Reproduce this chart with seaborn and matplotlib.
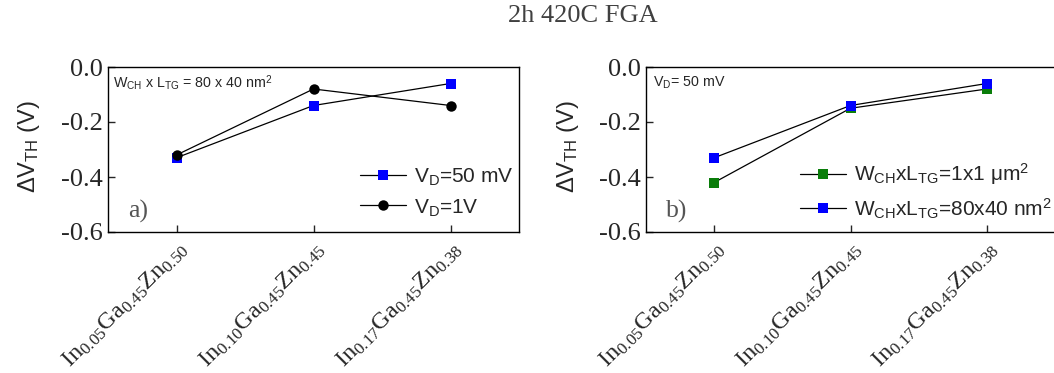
import numpy as np
import pandas as pd
import matplotlib
matplotlib.use("Agg")
import matplotlib.pyplot as plt
import seaborn as sns
from matplotlib.transforms import ScaledTranslation

# ---- data ----
categories = [r"$\mathrm{In}_{0.05}\mathrm{Ga}_{0.45}\mathrm{Zn}_{0.50}$",
              r"$\mathrm{In}_{0.10}\mathrm{Ga}_{0.45}\mathrm{Zn}_{0.45}$",
              r"$\mathrm{In}_{0.17}\mathrm{Ga}_{0.45}\mathrm{Zn}_{0.38}$"]
vd_50mV = [-0.33, -0.14, -0.06]
vd_1V = [-0.32, -0.08, -0.14]
size_1x1 = [-0.42, -0.15, -0.08]
size_80x40 = [-0.33, -0.14, -0.06]
yticks = [-0.6, -0.4, -0.2, 0.0]
ytick_labels = ["-0.6", "-0.4", "-0.2", "0.0"]

sns.set_style("ticks")
plt.rcParams["font.family"] = ["Liberation Serif", "DejaVu Sans"]
plt.rcParams["mathtext.fontset"] = "custom"
plt.rcParams["mathtext.rm"] = "Liberation Serif"
plt.rcParams["mathtext.it"] = "Liberation Serif:italic"
plt.rcParams["mathtext.bf"] = "Liberation Serif:bold"
plt.rcParams["mathtext.sf"] = "Liberation Sans"
plt.rcParams["axes.unicode_minus"] = False

fig = plt.figure(figsize=(10.54, 3.73), dpi=100)
W, H = 1054, 373
ax1 = fig.add_axes([108 / W, 141 / H, 411 / W, 165 / H])
ax2 = fig.add_axes([646 / W, 141 / H, 409 / W, 165 / H])

x = np.arange(len(categories))
df = pd.DataFrame({"x": x, "vd50": vd_50mV, "vd1": vd_1V,
                   "s1": size_1x1, "s80": size_80x40})

line_kw = dict(color="black", linewidth=0.9, markeredgewidth=0)

sns.lineplot(data=df, x="x", y="vd50", ax=ax1, marker="s", markersize=6.5,
             markerfacecolor="#0000ff", label=r"V$_\mathsf{D}$=50 mV", **line_kw)
sns.lineplot(data=df, x="x", y="vd1", ax=ax1, marker="o", markersize=7.5,
             markerfacecolor="black", label=r"V$_\mathsf{D}$=1V", **line_kw)

sns.lineplot(data=df, x="x", y="s1", ax=ax2, marker="s", markersize=6.5,
             markerfacecolor="#0a7d0a",
             label=r"W$_\mathsf{CH}$xL$_\mathsf{TG}$=1x1 μm$^\mathsf{2}$", **line_kw)
sns.lineplot(data=df, x="x", y="s80", ax=ax2, marker="s", markersize=6.5,
             markerfacecolor="#0000ff",
             label=r"W$_\mathsf{CH}$xL$_\mathsf{TG}$=80x40 nm$^\mathsf{2}$", **line_kw)

for ax, letter in ((ax1, "a)"), (ax2, "b)")):
    ax.set_xlim(-0.5, 2.5)
    ax.set_ylim(-0.6, 0.0)
    ax.set_yticks(yticks)
    ax.set_yticklabels(ytick_labels, fontsize=19, family="Liberation Serif")
    ax.set_xticks(x)
    ax.set_xticklabels(categories, fontsize=17.5, rotation=45, ha="right",
                       va="top", rotation_mode="anchor")
    off = ScaledTranslation(33 / 100, 6 / 100, fig.dpi_scale_trans)
    for lab in ax.get_xticklabels():
        lab.set_transform(lab.get_transform() + off)
    ax.tick_params(direction="in", length=5, width=1, top=False, right=False,
                   pad=4)
    for s in ax.spines.values():
        s.set_visible(True)
        s.set_linewidth(1)
        s.set_color("black")
    ax.set_xlabel("")
    ax.set_ylabel("ΔV$_\\mathsf{TH}$ (V)", fontsize=17, family="Liberation Sans")
    ax.yaxis.set_label_coords(-0.16, 0.52)
    ax.text(0.05, 0.127, letter, transform=ax.transAxes, fontsize=18.5,
            color="#555555", family="Liberation Serif", va="center", ha="left")
    ax.grid(False)

ax1.text(0.012, 0.903, r"W$_\mathsf{CH}$ x L$_\mathsf{TG}$ = 80 x 40 nm$^\mathsf{2}$",
         transform=ax1.transAxes, fontsize=10.3, family="Liberation Sans",
         va="center", ha="left")
ax2.text(0.018, 0.903, r"V$_\mathsf{D}$= 50 mV",
         transform=ax2.transAxes, fontsize=10.3, family="Liberation Sans",
         va="center", ha="left")

leg_kw = dict(frameon=False, borderpad=0, borderaxespad=0, handlelength=2.2,
              handletextpad=0.4, labelspacing=0.45,
              prop={"family": "Liberation Sans", "size": 15})
ax1.legend(loc="center left", bbox_to_anchor=(0.613, 0.242), **leg_kw)
ax2.legend(loc="center left", bbox_to_anchor=(0.377, 0.245), **leg_kw)

fig.text(0.553, 0.957, "2h 420C FGA", ha="center", va="center", fontsize=19,
         color="#404040", family="Liberation Serif")

fig.savefig("out.png", dpi=100)
